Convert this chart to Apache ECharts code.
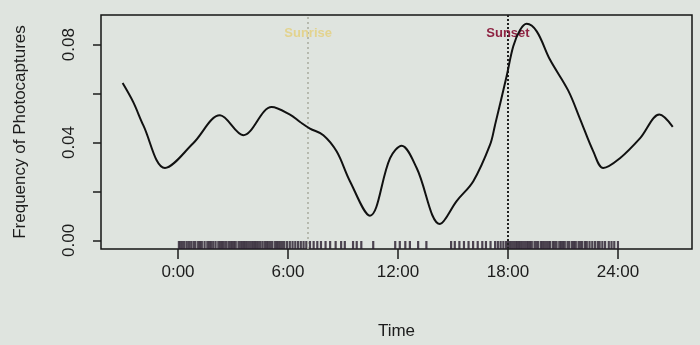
<!DOCTYPE html>
<html>
<head>
<meta charset="utf-8">
<script src="https://cdn.jsdelivr.net/npm/echarts@6/dist/echarts.min.js"></script>
<style>
  html, body { margin: 0; padding: 0; background: #dfe4df; }
  #chart { width: 700px; height: 345px; }
</style>
</head>
<body>
<div id="chart"></div>
<script>
// density curve: hour of day, frequency
var hours = [-3.02, -2.44, -1.89, -0.71, 0.83, 2.29, 3.56, 5.11, 6.11, 6.66, 7.20, 7.93, 8.66, 9.38, 10.47,
             11.57, 12.20, 13.02, 14.29, 15.20, 16.11, 17.02, 17.29, 17.93, 18.29, 18.66, 19.02, 19.57,
             20.29, 21.29, 21.93, 22.66, 23.20, 24.11, 25.20, 26.26, 26.99];
var freq = [0.0643, 0.0565, 0.0470, 0.0296, 0.0397, 0.0511, 0.0430, 0.0545, 0.0514, 0.0484, 0.0457, 0.0430,
            0.0363, 0.0242, 0.0101, 0.0336, 0.0387, 0.0296, 0.0067, 0.0161, 0.0242, 0.0390, 0.0470, 0.0672,
            0.0793, 0.0860, 0.0885, 0.0854, 0.0739, 0.0612, 0.0497, 0.0363, 0.0296, 0.0336, 0.0417, 0.0514, 0.0464];

// photocapture times (rug)
var rug = [0.05, 0.15, 0.25, 0.35, 0.48, 0.6, 0.72, 0.85, 0.95, 1.1, 1.2, 1.3, 1.45, 1.6, 1.7, 1.8, 1.92,
           2.05, 2.2, 2.3, 2.4, 2.5, 2.62, 2.75, 2.85, 2.95, 3.05, 3.15, 3.3, 3.4, 3.5, 3.6, 3.7, 3.8, 3.9,
           4.0, 4.1, 4.2, 4.3, 4.4, 4.5, 4.62, 4.75, 4.85, 4.95, 5.05, 5.15, 5.3, 5.4, 5.5, 5.6, 5.7, 5.8,
           5.95, 6.1, 6.25, 6.4, 6.55, 6.7, 6.85, 7.0, 7.2, 7.4, 7.6, 7.8, 8.05, 8.3, 8.6, 8.9, 9.1, 9.55,
           9.75, 10.0, 10.65, 11.85, 12.1, 12.4, 12.65, 13.1, 13.55, 14.9, 15.1, 15.35, 15.6, 15.85, 16.1,
           16.35, 16.6, 16.8, 17.05, 17.3, 17.45, 17.6, 17.75, 17.9, 18.0, 18.1, 18.2, 18.3, 18.4, 18.5,
           18.6, 18.7, 18.8, 18.9, 19.0, 19.1, 19.2, 19.3, 19.45, 19.55, 19.65, 19.8, 19.9, 20.0, 20.1,
           20.2, 20.3, 20.45, 20.55, 20.65, 20.8, 20.9, 21.0, 21.1, 21.25, 21.35, 21.5, 21.6, 21.7, 21.85,
           21.95, 22.05, 22.2, 22.3, 22.45, 22.6, 22.75, 22.9, 23.0, 23.15, 23.3, 23.5, 23.65, 23.8, 24.0];

var xTicks = [0, 6, 12, 18, 24];
var xLabels = ['0:00', '6:00', '12:00', '18:00', '24:00'];
var yTicks = [0, 0.02, 0.04, 0.06, 0.08];
var yLabels = [0, 0.04, 0.08];

var sunrise = 7.1, sunset = 18.0;
var X_MIN = -4.2, X_MAX = 28.04;
var Y_MIN = -0.0035, Y_MAX = 0.0921;
var LABEL_Y = 0.0845;

var font = 'Liberation Sans, Arial, sans-serif';
var ink = '#1c1c1c';

var chart = echarts.init(document.getElementById('chart'));

var option = {
    backgroundColor: '#dfe4df',
    animation: false,
    grid: {
        left: 101, right: 8, top: 15, bottom: 93,
        show: true, borderColor: '#151515', borderWidth: 1.5,
        backgroundColor: 'transparent'
    },
    xAxis: {
        type: 'value', min: X_MIN, max: X_MAX,
        axisLine: { show: false, onZero: false },
        splitLine: { show: false },
        axisTick: { show: true, customValues: xTicks, length: 10, lineStyle: { color: ink, width: 1.5 } },
        axisLabel: {
            customValues: xTicks, margin: 15, fontSize: 17, fontFamily: font, color: ink,
            formatter: function (v) { return xLabels[xTicks.indexOf(v)]; }
        },
        name: 'Time', nameLocation: 'middle', nameGap: 74,
        nameTextStyle: { fontSize: 17, fontFamily: font, color: ink }
    },
    yAxis: {
        type: 'value', min: Y_MIN, max: Y_MAX,
        axisLine: { show: false, onZero: false },
        splitLine: { show: false },
        axisTick: { show: true, customValues: yTicks, length: 8, lineStyle: { color: ink, width: 1.5 } },
        axisLabel: {
            customValues: yLabels, rotate: 90, margin: 23, fontSize: 17, fontFamily: font, color: ink,
            formatter: function (v) { return v.toFixed(2); }
        },
        name: 'Frequency of Photocaptures', nameLocation: 'middle', nameGap: 72, nameRotate: 90,
        nameTextStyle: { fontSize: 17, fontFamily: font, color: ink }
    },
    series: [
        {
            type: 'line',
            data: hours.map(function (h, i) { return [h, freq[i]]; }),
            smooth: 0.35,
            showSymbol: false,
            lineStyle: { color: '#111', width: 2 },
            z: 5,
            markLine: {
                silent: true,
                symbol: 'none',
                label: { show: false },
                data: [
                    { xAxis: sunrise, lineStyle: { color: '#a9ab9e', type: [2, 3], width: 1.5 } },
                    { xAxis: sunset, lineStyle: { color: '#222', type: [2, 2], width: 2 } }
                ]
            },
            markPoint: {
                silent: true,
                symbol: 'circle', symbolSize: 0,
                data: [
                    { coord: [sunrise, LABEL_Y], label: { show: true, formatter: 'Sunrise', color: '#e3d38e', fontSize: 13, fontWeight: 'bold', fontFamily: font } },
                    { coord: [sunset, LABEL_Y], label: { show: true, formatter: 'Sunset', color: '#8e2443', fontSize: 13, fontWeight: 'bold', fontFamily: font } }
                ]
            }
        },
        {
            type: 'scatter',
            data: rug.map(function (t) { return [t, Y_MIN]; }),
            symbol: 'rect',
            symbolSize: [2.2, 8],
            symbolOffset: [0, -4],
            itemStyle: { color: '#271c2c' },
            z: 3
        }
    ]
};

chart.setOption(option);
</script>
</body>
</html>
